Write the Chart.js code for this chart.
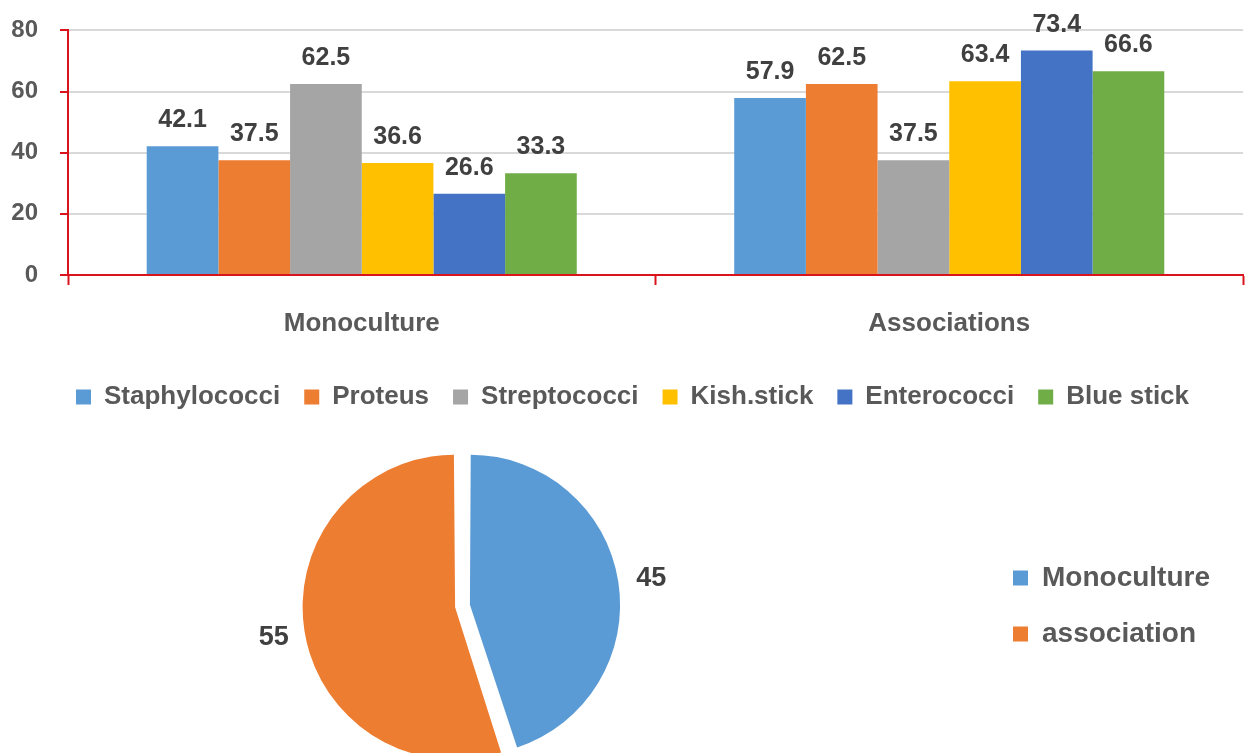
<!DOCTYPE html>
<html>
<head>
<meta charset="utf-8">
<script src="https://cdn.jsdelivr.net/npm/chart.js@4/dist/chart.umd.min.js"></script>
<style>
  html, body { margin: 0; padding: 0; background: #fff; overflow: hidden; }
  #barBox { position: absolute; left: 0; top: -6px; width: 1248px; height: 426px; }
  #pieBox { position: absolute; left: -60px; top: 430px; width: 1308px; height: 352px; }
</style>
</head>
<body>
<div id="barBox"><canvas id="barChart"></canvas></div>
<div id="pieBox"><canvas id="pieChart"></canvas></div>
<script>
  // ---- data ----
  const groups = ["Monoculture", "Associations"];
  const bacteria = ["Staphylococci", "Proteus", "Streptococci", "Kish.stick", "Enterococci", "Blue stick"];
  const monocultureValues = [42.1, 37.5, 62.5, 36.6, 26.6, 33.3];
  const associationValues = [57.9, 62.5, 37.5, 63.4, 73.4, 66.6];
  const yTicks = [0, 20, 40, 60, 80];

  const pieLabels = ["Monoculture", "association"];
  const pieValues = [45, 55];

  // ---- styles ----
  const FONT = "'Liberation Sans', Arial, sans-serif";
  const barColors = ["#5B9BD5", "#ED7D31", "#A5A5A5", "#FFC000", "#4472C4", "#70AD47"];
  const pieColors = ["#5B9BD5", "#ED7D31"];
  const axisRed = "#D9141C";
  const textGrey = "#595959";
  const labelDark = "#404040";

  // value labels above the bars
  const barValueLabels = {
    id: "barValueLabels",
    afterDatasetsDraw(chart) {
      const ctx = chart.ctx;
      ctx.save();
      ctx.font = "bold 25px " + FONT;
      ctx.fillStyle = labelDark;
      ctx.textAlign = "center";
      ctx.textBaseline = "alphabetic";
      chart.data.datasets.forEach((ds, i) => {
        chart.getDatasetMeta(i).data.forEach((bar, j) => {
          ctx.fillText(ds.data[j].toFixed(1), bar.x, bar.y - 19);
        });
      });
      ctx.restore();
    }
  };

  // nudge the bottom legend a little to the right, like the original
  const legendShift = {
    id: "legendShift",
    afterLayout(chart) {
      chart.legend.left += 11;
      chart.legend.right += 11;
    }
  };

  // numbers outside the pie slices
  const pieValueLabels = {
    id: "pieValueLabels",
    afterDatasetsDraw(chart) {
      const ctx = chart.ctx;
      ctx.save();
      ctx.font = "bold 27px " + FONT;
      ctx.fillStyle = labelDark;
      ctx.textAlign = "center";
      ctx.textBaseline = "middle";
      chart.getDatasetMeta(0).data.forEach((arc, j) => {
        const mid = (arc.startAngle + arc.endAngle) / 2;
        const r = arc.outerRadius + 46;
        ctx.fillText(String(pieValues[j]), arc.x + Math.cos(mid) * r, arc.y + Math.sin(mid) * r + 2);
      });
      ctx.restore();
    }
  };

  new Chart(document.getElementById("barChart"), {
    type: "bar",
    data: {
      labels: groups,
      datasets: bacteria.map((name, i) => ({
        label: name,
        data: [monocultureValues[i], associationValues[i]],
        backgroundColor: barColors[i],
        barPercentage: 1,
        categoryPercentage: 0.732
      }))
    },
    options: {
      responsive: true,
      maintainAspectRatio: false,
      animation: false,
      layout: { padding: { top: 17, right: 5, left: 0, bottom: 0 } },
      plugins: {
        tooltip: { enabled: false },
        legend: {
          position: "bottom",
          labels: {
            color: textGrey,
            font: { family: FONT, size: 26, weight: "bold" },
            boxWidth: 15,
            boxHeight: 15,
            padding: 24
          }
        }
      },
      scales: {
        x: {
          afterFit(scale) { scale.height = 85; },
          grid: {
            offset: true,
            drawOnChartArea: false,
            drawTicks: true,
            tickLength: 10,
            color: axisRed,
            tickWidth: 2
          },
          border: { color: axisRed, width: 2 },
          ticks: {
            color: textGrey,
            font: { family: FONT, size: 26, weight: "bold" },
            padding: 23
          }
        },
        y: {
          min: 0,
          max: 80,
          afterBuildTicks(scale) {
            scale.ticks = yTicks.map(v => ({ value: v }));
          },
          afterFit(scale) { scale.width = 68; },
          grid: {
            color: "#D9D9D9",
            lineWidth: 2,
            tickColor: axisRed,
            tickLength: 8,
            tickWidth: 2
          },
          border: { color: axisRed, width: 2 },
          ticks: {
            color: textGrey,
            font: { family: FONT, size: 24, weight: "bold" },
            padding: 22
          }
        }
      }
    },
    plugins: [barValueLabels, legendShift]
  });

  new Chart(document.getElementById("pieChart"), {
    type: "pie",
    data: {
      labels: pieLabels,
      datasets: [{
        data: pieValues,
        backgroundColor: pieColors,
        borderWidth: 0,
        offset: 30
      }]
    },
    options: {
      responsive: true,
      maintainAspectRatio: false,
      animation: false,
      radius: 145,
      layout: { padding: { left: 0, right: 28, top: 0, bottom: 0 } },
      plugins: {
        tooltip: { enabled: false },
        legend: {
          position: "right",
          labels: {
            color: textGrey,
            font: { family: FONT, size: 28, weight: "bold" },
            boxWidth: 15,
            boxHeight: 15,
            padding: 28
          }
        }
      }
    },
    plugins: [pieValueLabels]
  });
</script>
</body>
</html>
